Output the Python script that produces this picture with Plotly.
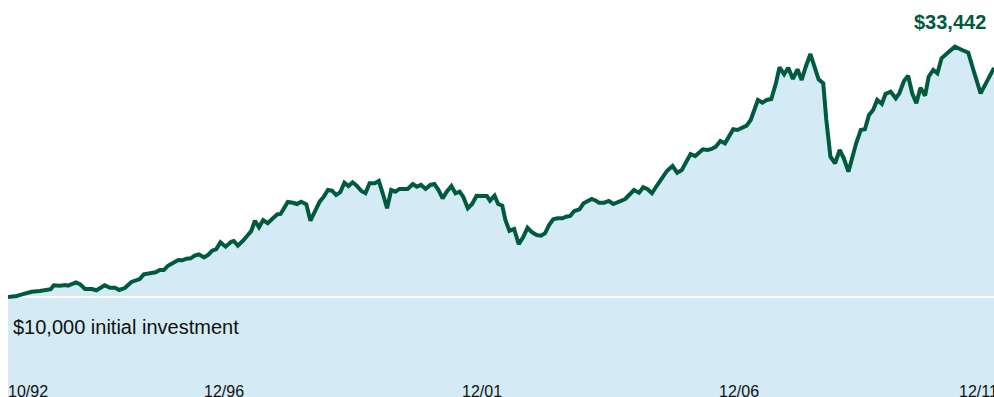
import plotly.graph_objects as go

# Decimal years (10/92 .. 12/11) and growth of a $10,000 investment
years = [
    1992.75, 1992.92, 1993.04, 1993.21, 1993.37, 1993.50, 1993.58, 1993.64, 1993.76, 1993.86,
    1993.92, 1994.07, 1994.15, 1994.25, 1994.38, 1994.47, 1994.63, 1994.73, 1994.83, 1994.91,
    1995.02, 1995.15, 1995.25, 1995.31, 1995.39, 1995.51, 1995.62, 1995.70, 1995.78, 1995.86,
    1995.96, 1996.06, 1996.14, 1996.22, 1996.30, 1996.38, 1996.46, 1996.56, 1996.64, 1996.72,
    1996.80, 1996.88, 1996.98, 1997.09, 1997.14, 1997.22, 1997.32, 1997.44, 1997.48, 1997.55,
    1997.63, 1997.71, 1997.80, 1997.90, 1997.99, 1998.05, 1998.13, 1998.19, 1998.29, 1998.37,
    1998.45, 1998.55, 1998.63, 1998.71, 1998.81, 1998.89, 1998.97, 1999.05, 1999.13, 1999.21,
    1999.29, 1999.37, 1999.45, 1999.53, 1999.62, 1999.70, 1999.78, 1999.88, 1999.96, 2000.04,
    2000.12, 2000.20, 2000.28, 2000.36, 2000.52, 2000.62, 2000.70, 2000.78, 2000.87, 2000.96,
    2001.04, 2001.12, 2001.20, 2001.28, 2001.37, 2001.45, 2001.53, 2001.60, 2001.69, 2001.77,
    2001.86, 2001.97, 2002.06, 2002.12, 2002.21, 2002.28, 2002.36, 2002.42, 2002.50, 2002.59,
    2002.68, 2002.77, 2002.85, 2002.94, 2003.03, 2003.11, 2003.19, 2003.27, 2003.35, 2003.43,
    2003.53, 2003.60, 2003.68, 2003.76, 2003.86, 2003.94, 2004.02, 2004.10, 2004.18, 2004.24,
    2004.34, 2004.43, 2004.52, 2004.63, 2004.75, 2004.86, 2004.92, 2005.02, 2005.10, 2005.18,
    2005.27, 2005.36, 2005.46, 2005.56, 2005.67, 2005.76, 2005.85, 2005.94, 2006.02, 2006.11,
    2006.19, 2006.26, 2006.35, 2006.43, 2006.51, 2006.60, 2006.69, 2006.77, 2006.85, 2006.93,
    2007.02, 2007.11, 2007.19, 2007.25, 2007.33, 2007.42, 2007.50, 2007.59, 2007.68, 2007.75,
    2007.84, 2007.92, 2008.01, 2008.10, 2008.18, 2008.26, 2008.35, 2008.43, 2008.51, 2008.60,
    2008.66, 2008.74, 2008.83, 2008.92, 2009.00, 2009.09, 2009.16, 2009.24, 2009.33, 2009.41,
    2009.49, 2009.57, 2009.65, 2009.74, 2009.81, 2009.91, 2010.01, 2010.08, 2010.17, 2010.25,
    2010.33, 2010.41, 2010.49, 2010.58, 2010.65, 2010.74, 2010.82, 2010.90, 2011.01, 2011.16,
    2011.30, 2011.42, 2011.53, 2011.66, 2011.78, 2011.92,
]
values = [
    10000, 10100, 10300, 10540, 10610, 10790, 10800, 11200, 11160, 11230,
    11160, 11500, 11300, 10820, 10820, 10690, 11200, 10950, 10950, 10720,
    10920, 11540, 11670, 11840, 12320, 12430, 12530, 12760, 12760, 13200,
    13550, 13790, 13760, 13920, 13960, 14230, 14370, 14060, 14300, 14740,
    14910, 15600, 15150, 15660, 15730, 15250, 15760, 16520, 16760, 17810,
    17140, 17880, 17550, 18060, 18470, 18500, 19240, 19730, 19650, 19520,
    19760, 19490, 17810, 18670, 19760, 20270, 20950, 20880, 20440, 20720,
    21700, 21360, 21740, 21390, 20850, 20620, 21640, 21640, 21870, 20540,
    19080, 20950, 20780, 21060, 21060, 21570, 21290, 21470, 21060, 21470,
    21570, 20950, 20100, 20780, 21360, 20620, 20780, 20270, 19080, 19490,
    20370, 20340, 20340, 19860, 20370, 19520, 19350, 17880, 16760, 16960,
    15400, 16170, 17090, 16620, 16350, 16280, 16520, 17370, 17950, 18060,
    18060, 18220, 18290, 18800, 18980, 19590, 19760, 20030, 19860, 19650,
    19650, 19830, 19520, 19760, 20030, 20620, 20950, 20680, 21230, 21060,
    20620, 21360, 22210, 22900, 23410, 22720, 23000, 23790, 24640, 24430,
    24770, 25120, 25050, 25150, 25390, 25970, 25730, 26480, 27170, 27100,
    27370, 27540, 28120, 29140, 30170, 29890, 30170, 30270, 31880, 33510,
    32800, 33470, 32320, 33310, 32210, 33570, 34870, 33570, 32280, 31880,
    28120, 24360, 23690, 25050, 24200, 22830, 24200, 25730, 27100, 27170,
    28630, 29140, 30170, 29760, 30780, 31020, 30340, 30850, 32110, 32650,
    30850, 29830, 31430, 30610, 32550, 33240, 32900, 34430, 34950, 35620,
    35280, 35010, 33060, 30850, 32040, 33442,
]

initial_value = 10000
end_label = "$33,442"
note_label = "$10,000 initial investment"
tick_years = [1992.75, 1996.92, 2001.92, 2006.92, 2011.92]
tick_labels = ["10/92", "12/96", "12/01", "12/06", "12/11"]

GREEN = "#005a3e"
FILL = "#d4ebf5"
FONT = "Arial, Liberation Sans, sans-serif"
YMIN = -235
YMAX = 40400

fig = go.Figure()
# filled area down to the bottom of the plot
fig.add_trace(go.Scatter(x=years, y=[YMIN] * len(years), mode="lines",
                         line=dict(width=0, color=FILL), hoverinfo="skip"))
fig.add_trace(go.Scatter(x=years, y=values, mode="lines", fill="tonexty",
                         fillcolor=FILL, line=dict(width=0, color=FILL), hoverinfo="skip"))
# white baseline at the initial investment
fig.add_trace(go.Scatter(x=[years[0], years[-1]], y=[initial_value, initial_value], mode="lines",
                         line=dict(width=2, color="white"), hoverinfo="skip"))
# growth line
fig.add_trace(go.Scatter(x=years, y=values, mode="lines",
                         line=dict(width=4, color=GREEN), hoverinfo="skip"))

annotations = [
    dict(x=years[0], y=6930, xref="x", yref="y", text=note_label, showarrow=False,
         xanchor="left", yanchor="middle", xshift=3,
         font=dict(family=FONT, size=20, color="#111111")),
    dict(x=years[-1], y=38150, xref="x", yref="y", text=f"<b>{end_label}</b>", showarrow=False,
         xanchor="right", yanchor="middle", xshift=-6,
         font=dict(family=FONT, size=20, color=GREEN)),
]
for i, (tx, tl) in enumerate(zip(tick_years, tick_labels)):
    if i == 0:
        anchor, shift = "left", -2
    elif i == len(tick_years) - 1:
        anchor, shift = "right", 6
    else:
        anchor, shift = "center", 2
    annotations.append(dict(x=tx, y=0, xref="x", yref="paper", text=tl, showarrow=False,
                            xanchor=anchor, yanchor="bottom", xshift=shift, yshift=-5,
                            font=dict(family=FONT, size=16, color="#111111")))

fig.update_layout(
    width=994, height=397,
    margin=dict(l=8, r=0, t=0, b=0),
    paper_bgcolor="white", plot_bgcolor="white",
    showlegend=False,
    xaxis=dict(range=[years[0], years[-1]], visible=False, fixedrange=True),
    yaxis=dict(range=[YMIN, YMAX], visible=False, fixedrange=True),
    annotations=annotations,
)

fig.write_html("out.html", config={"displayModeBar": False})
